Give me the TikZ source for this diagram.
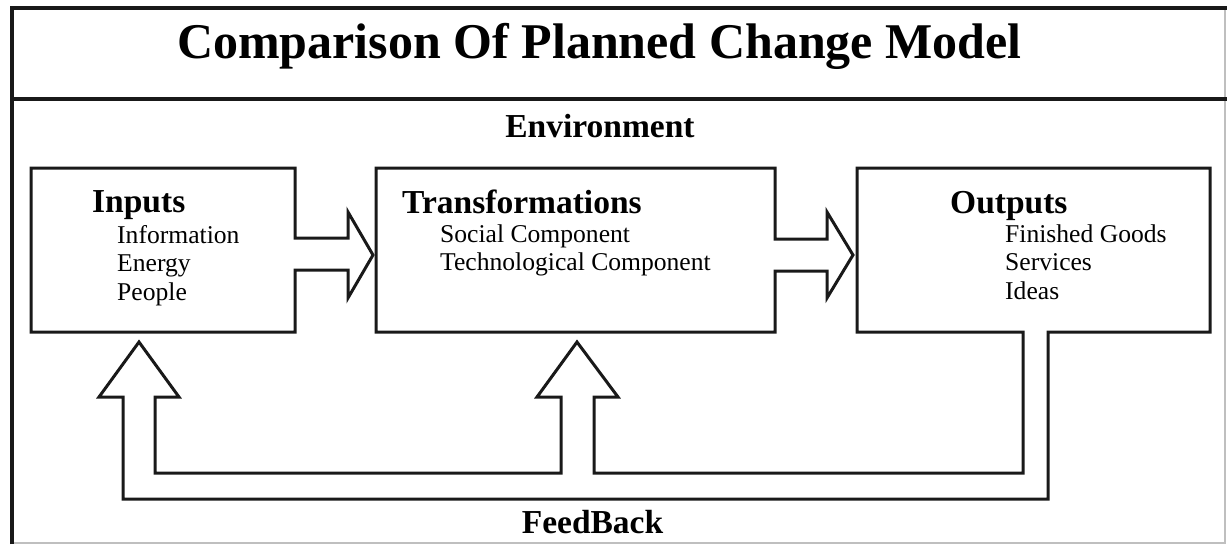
\documentclass[tikz,border=0pt]{standalone}
\usepackage{fontspec}
\setmainfont{Liberation Serif}
\begin{document}
\begin{tikzpicture}[x=1pt,y=-1pt,
  outline/.style={draw=black!90, line width=3pt, line join=miter},
  framedark/.style={draw=black!90, line width=3.5pt},
  framelight/.style={draw=black!25, line width=1.5pt},
  titletext/.style={font=\fontsize{50}{60}\selectfont\bfseries, anchor=base, inner sep=0pt},
  headtext/.style={font=\fontsize{33.5}{40}\selectfont\bfseries, anchor=base west, inner sep=0pt},
  itemtext/.style={font=\fontsize{25.6}{30}\selectfont, anchor=base west, inner sep=0pt, align=left},
  sectext/.style={font=\fontsize{33.5}{40}\selectfont\bfseries, anchor=base, inner sep=0pt}]
\useasboundingbox (0,0) rectangle (1227,544);
% frame
\draw[framelight] (1225,8) -- (1225,543) -- (12,543);
\draw[framedark] (12,544) -- (12,8) -- (1227,8);
\draw[framedark] (12,99) -- (1227,99);
% title and section labels
\node[titletext] (title) at (599.5,58) {Comparison Of Planned Change Model};
\node[sectext] (env) at (600,137) {Environment};
\node[sectext] (fb) at (592.5,533) {FeedBack};
% Inputs box with arrow
\draw[outline] (31,168) -- (295,168) -- (295,238) -- (348,238) -- (348,212)
  -- (373,255) -- (348,298) -- (348,270) -- (295,270) -- (295,332) -- (31,332) -- cycle;
% Transformations box with arrow
\draw[outline] (376,168) -- (775,168) -- (775,239) -- (827,239) -- (827,212)
  -- (853,255) -- (827,298) -- (827,271) -- (775,271) -- (775,332) -- (376,332) -- cycle;
% Outputs box with feedback loop
\draw[outline] (857,168) -- (1210,168) -- (1210,332) -- (1048,332) -- (1048,499)
  -- (123,499) -- (123,397) -- (99,397) -- (139,342) -- (179,397) -- (155,397)
  -- (155,473) -- (561,473) -- (561,397) -- (537,397) -- (577,342) -- (618,397)
  -- (594,397) -- (594,473) -- (1023,473) -- (1023,332) -- (857,332) -- cycle;
% texts
\node[headtext] (inh) at (92,212) {Inputs};
\node[itemtext] (in1) at (117,243) {Information};
\node[itemtext] (in2) at (117,271.5) {Energy};
\node[itemtext] (in3) at (117,300) {People};
\node[headtext] (trh) at (402,213) {Transformations};
\node[itemtext] (tr1) at (440,242) {Social Component};
\node[itemtext] (tr2) at (440,270.5) {Technological Component};
\node[headtext] (ouh) at (950,213) {Outputs};
\node[itemtext] (ou1) at (1005,242) {Finished Goods};
\node[itemtext] (ou2) at (1005,270.5) {Services};
\node[itemtext] (ou3) at (1005,299) {Ideas};
\end{tikzpicture}
\end{document}
